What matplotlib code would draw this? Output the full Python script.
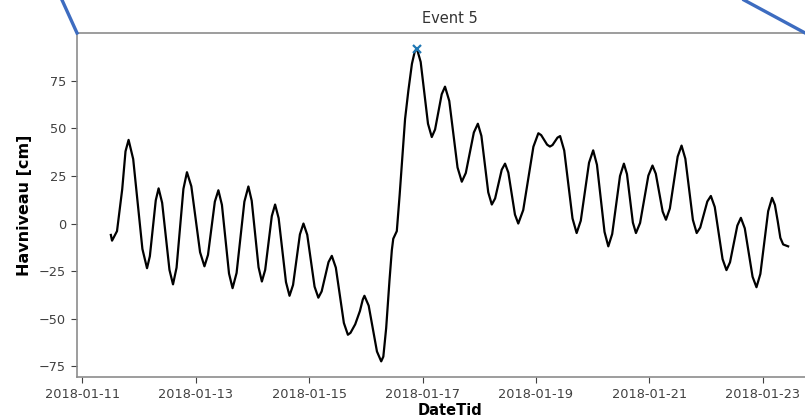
import numpy as np
import pandas as pd
import matplotlib
matplotlib.use("Agg")
import matplotlib.pyplot as plt
import matplotlib.dates as mdates
from matplotlib.lines import Line2D

# water level for event 5, hours counted from 2018-01-11 00:00
start = pd.Timestamp("2018-01-11")
hours = [
    12.1, 12.6, 14.7, 16.9, 18.3, 19.6,
    21.55, 23.5, 25.45, 27.4,
    28.6, 29.85, 31.1, 32.3,
    33.8, 35.35, 36.9, 38.4,
    39.9, 41.35, 42.8, 44.3,
    46.15, 48.0, 49.85, 51.7,
    53.2, 54.65, 56.1, 57.6,
    59.1, 60.6, 62.1, 63.6,
    65.3, 66.95, 68.6, 70.3,
    71.7, 73.15, 74.6, 76.0,
    77.4, 78.8, 80.2, 81.6,
    83.1, 84.65, 86.2, 87.7,
    89.2, 90.65, 92.1, 93.6,
    95.2, 96.75, 98.3, 99.9,
    101.3, 102.75, 104.2, 105.6,
    107.3, 109.0, 110.7, 112.4,
    113.5, 115.5, 117.5, 118.7, 119.4,
    121.2, 122.95, 124.7, 126.5,
    127.4, 128.6, 130.0, 131.0, 131.6, 133.1,
    134.3, 135.5, 136.6, 138.0, 139.5, 140.7, 141.6,
    143.2, 144.75, 146.3, 147.9,
    149.3, 150.7, 152.1, 153.5,
    155.3, 157.05, 158.8, 160.6,
    162.3, 164.0, 165.7, 167.4,
    168.9, 170.35, 171.8, 173.3,
    174.7, 176.1, 177.5, 178.9,
    180.3, 181.7, 183.1, 184.5,
    186.6, 188.75, 190.9, 193.0,
    194.2, 195.45, 196.7, 197.9,
    199.0, 200.05, 201.1, 202.2,
    203.95, 205.7, 207.45, 209.2,
    210.95, 212.7, 214.45, 216.2,
    217.8, 219.4, 221.0, 222.6,
    224.25, 225.9, 227.55, 229.2,
    230.5, 231.75, 233.0, 234.3,
    236.05, 237.8, 239.55, 241.3,
    242.7, 244.15, 245.6, 247.0,
    248.65, 250.3, 251.95, 253.6,
    255.2, 256.8, 258.4, 260.0,
    261.5, 263.0, 264.5, 266.0,
    267.65, 269.3, 270.95, 272.6,
    274.1, 275.65, 277.2, 278.7,
    280.35, 282.0, 283.65, 285.3,
    286.95, 288.6, 290.25, 291.9,
    293.1, 294.3, 295.4, 296.6, 298.7,
]
havniveau = [
    -6, -9, -4, 18, 38, 44,
    33.9, 10.3, -13.4, -23.5,
    -17.2, -2.5, 12.2, 18.5,
    10.9, -6.8, -24.4, -32,
    -23.2, -2.5, 18.2, 27,
    19.6, 2.3, -15.1, -22.5,
    -16.5, -2.5, 11.5, 17.5,
    9.8, -8.3, -26.3, -34,
    -26.0, -7.3, 11.5, 19.5,
    12.0, -5.5, -23.0, -30.5,
    -24.4, -10.3, 3.9, 10,
    2.8, -14, -30.8, -38,
    -32.3, -19, -5.7, 0,
    -5.9, -19.5, -33.2, -39,
    -35.7, -28, -20.3, -17,
    -23.2, -37.8, -52.3, -58.5,
    -57.5, -53, -46, -40, -38,
    -43.2, -55.3, -67.3, -72.5,
    -70, -55, -30, -14, -8, -4,
    15, 36, 55, 70, 84, 90.5, 92,
    85.0, 68.8, 52.5, 45.5,
    49.5, 58.8, 68.0, 72,
    64.5, 47, 29.5, 22,
    26.6, 37.3, 47.9, 52.5,
    46.1, 31.3, 16.4, 10,
    13.2, 20.8, 28.3, 31.5,
    26.8, 15.8, 4.7, 0,
    7.1, 23.8, 40.4, 47.5,
    46.5, 44, 41.5, 40.5,
    41.3, 43.3, 45.2, 46,
    38.4, 20.5, 2.7, -5,
    1.5, 16.8, 32.0, 38.5,
    30.9, 13.3, -4.4, -12,
    -5.5, 9.8, 25.0, 31.5,
    26.0, 13.3, 0.5, -5,
    0.3, 12.8, 25.2, 30.5,
    26.2, 16.3, 6.3, 2,
    7.9, 21.5, 35.2, 41,
    34.1, 18, 1.9, -5,
    -2.1, 4.8, 11.6, 14.5,
    8.7, -5, -18.7, -24.5,
    -20.4, -10.8, -1.1, 3,
    -2.5, -15.3, -28.0, -33.5,
    -26.5, -10, 6.5, 13.5,
    9.8, 1.2, -7.5, -11, -12,
]

tid = start + pd.to_timedelta(hours, unit="h")
niveau = np.array(havniveau)
imax = int(np.argmax(niveau))

W, H = 805, 419
fig = plt.figure(figsize=(W / 100, H / 100), dpi=100)
# axes runs a bit past the right edge of the saved figure
ax = fig.add_axes([77 / W, 42 / H, 745 / W, 344 / H])

ax.plot(tid, niveau, color="black", lw=1.6, solid_joinstyle="round")
ax.plot(tid[imax], niveau[imax], "x", color="#1f77b4", ms=6, mew=1.6)

ax.xaxis.set_major_locator(mdates.DayLocator(bymonthday=range(1, 32, 2)))
ax.xaxis.set_major_formatter(mdates.DateFormatter("%Y-%m-%d"))
ax.set_yticks([-75, -50, -25, 0, 25, 50, 75])
ax.tick_params(labelsize=9.3, colors="0.25", length=4.5, width=0.8)

ax.set_title("Event 5", fontsize=10.5, color="0.2", pad=7)
ax.set_xlabel("DateTid", fontsize=10.5, fontweight="bold", labelpad=1)
ax.set_ylabel("Havniveau [cm]", fontsize=11.5, fontweight="bold", labelpad=5)

for s in ax.spines.values():
    s.set_color("0.55")
    s.set_linewidth(1.2)

# connector lines to the overview panel above
blue = "#3d6cc0"
fig.add_artist(Line2D([62 / W, 77 / W], [1.0, (H - 33) / H],
                      transform=fig.transFigure, color=blue, lw=2.4))
fig.add_artist(Line2D([744 / W, 807 / W], [1.0, (H - 34) / H],
                      transform=fig.transFigure, color=blue, lw=2.4))

fig.savefig("out.png", dpi=100)
